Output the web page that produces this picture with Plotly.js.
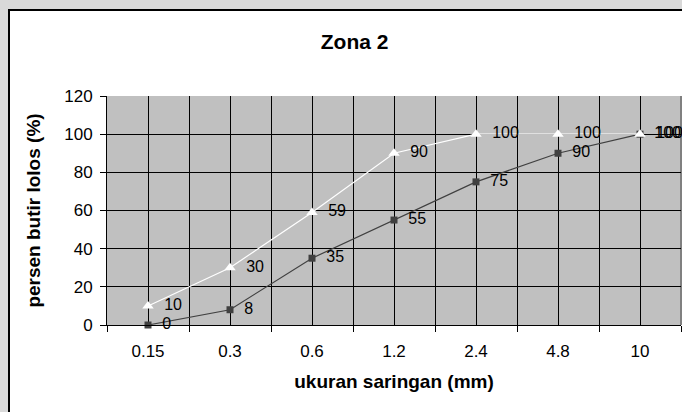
<!DOCTYPE html>
<html><head><meta charset="utf-8">
<script src="https://cdn.plot.ly/plotly-3.0.1.min.js"></script>
<style>
html,body{margin:0;padding:0;background:#d9d9d9;overflow:hidden;}
#box{position:absolute;left:8px;top:9px;width:700px;height:420px;background:#fff;border:2px solid #000;box-sizing:border-box;}
#c{position:absolute;left:0;top:0;width:682px;height:412px;}
</style>
</head><body><div id="box"></div><div id="c"></div>
<script>
const categories = ["0.15","0.3","0.6","1.2","2.4","4.8","10"];
const upperValues = [10,30,59,90,100,100,100];
const lowerValues = [0,8,35,55,75,90,100];
const yTicks = [0,20,40,60,80,100,120];

const idx = categories.map((c,i)=>i);
const bounds = [];
for (let i=0;i<=categories.length;i++) bounds.push(i-0.5);
const pad = '\u00a0\u00a0';

const font = {family:'"Liberation Sans", Arial, sans-serif', color:'#000'};

const traces = [
  {x: idx, y: lowerValues, mode:'lines+markers+text', text: lowerValues.map(v=>pad+v),
   textposition:'middle right', textfont:{...font, size:16},
   line:{color:'#404040', width:1.2}, marker:{symbol:'square', size:7, color:'#404040'},
   cliponaxis:false, hoverinfo:'none'},
  {x: idx, y: upperValues, mode:'lines+markers+text', text: upperValues.map(v=>pad+v),
   textposition:'middle right', textfont:{...font, size:16},
   line:{color:'#ffffff', width:1.2}, marker:{symbol:'triangle-up', size:10, color:'#ffffff'},
   cliponaxis:false, hoverinfo:'none'}
];

const layout = {
  width:682, height:412,
  paper_bgcolor:'rgba(0,0,0,0)', plot_bgcolor:'#c0c0c0',
  margin:{l:107, r:1, t:96, b:87},
  showlegend:false,
  font: {...font, size:17},
  title:{text:'<b>Zona 2</b>', font:{...font, size:21}, x:0.52, xanchor:'center', y:0.9, yanchor:'middle'},
  xaxis:{
    range:[-0.5, 6.5], tickvals: idx, ticktext: categories, ticks:'',
    showgrid:true, gridcolor:'#000', gridwidth:1,
    showline:true, linecolor:'#000', linewidth:1, zeroline:false,
    tickfont:{...font, size:17}, ticklabelstandoff:11,
    minor:{tickmode:'array', tickvals: bounds, ticks:'outside', ticklen:6, tickcolor:'#000',
           showgrid:true, gridcolor:'#000', gridwidth:1},
    title:{text:'<b>ukuran saringan (mm)</b>', font:{...font, size:19}, standoff:14}
  },
  yaxis:{
    range:[0,120], tickvals: yTicks, ticks:'outside', ticklen:6, tickcolor:'#000',
    showgrid:true, gridcolor:'#000', gridwidth:1,
    showline:true, linecolor:'#000', linewidth:1, zeroline:false,
    tickfont:{...font, size:17}, ticklabelstandoff:4,
    title:{text:'<b>persen butir lolos (%)</b>', font:{...font, size:19}, standoff:18}
  },
  shapes:[
    {type:'line', xref:'paper', yref:'paper', x0:1, x1:1, y0:0, y1:1, layer:'between',
     line:{color:'#808080', width:2}}
  ]
};

Plotly.newPlot('c', traces, layout, {displayModeBar:false, staticPlot:true});
</script></body></html>
